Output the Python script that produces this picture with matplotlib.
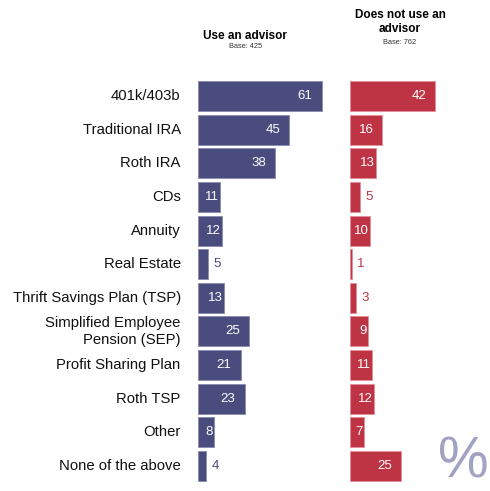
import matplotlib.pyplot as plt

# --- Data ---
categories = ["401k/403b", "Traditional IRA", "Roth IRA", "CDs", "Annuity",
              "Real Estate", "Thrift Savings Plan (TSP)",
              "Simplified Employee\nPension (SEP)", "Profit Sharing Plan",
              "Roth TSP", "Other", "None of the above"]
advisor = [61, 45, 38, 11, 12, 5, 13, 25, 21, 23, 8, 4]
no_advisor = [42, 16, 13, 5, 10, 1, 3, 9, 11, 12, 7, 25]

navy = "#4b4c7e"
red = "#be3445"

W, H = 490, 491
fig = plt.figure(figsize=(W / 100, H / 100), dpi=100)
plt.rcParams['font.family'] = ['Liberation Sans', 'DejaVu Sans']

px_per_unit = 2.03
top, bottom = 79.2, 482.8


def make_axes(x0, units):
    return fig.add_axes([x0 / W, (H - bottom) / H, units * px_per_unit / W, (bottom - top) / H])


def draw_panel(ax, values, color, edge, xmax):
    rows = range(len(values))
    ax.barh(rows, values, height=0.89, color=color, edgecolor=edge, linewidth=0.7)
    ax.set_xlim(0, xmax)
    ax.set_ylim(len(values) - 0.5, -0.5)
    ax.axis('off')
    for i, v in enumerate(values):
        if v >= 15:
            ax.text(v - 4.5, i, str(v), ha='right', va='center', color='white', fontsize=9.5)
        elif v >= 7:
            ax.text(v - 0.8, i, str(v), ha='right', va='center', color='white', fontsize=9.5)
        else:
            ax.text(v + 2.5, i, str(v), ha='left', va='center', color=color, fontsize=9.5)


ax1 = make_axes(198, 70)
draw_panel(ax1, advisor, navy, "#8d8eb3", 70)
for i, cat in enumerate(categories):
    ax1.text(-8.5, i, cat, ha='right', va='center', fontsize=10.7, color='#111111',
             linespacing=1.3)

ax2 = make_axes(350, 66)
draw_panel(ax2, no_advisor, red, "#e3909a", 66)

# --- Titles ---
fig.text(245 / W, 1 - 36 / H, "Use an advisor", ha='center', va='center',
         fontsize=8.5, fontweight='bold')
fig.text(245 / W, 1 - 46 / H, "Base: 425", ha='center', va='center', fontsize=5.3, color='#333333')
fig.text(400 / W, 1 - 22 / H, "Does not use an\nadvisor", ha='center', va='center',
         fontsize=8.5, fontweight='bold', linespacing=1.3)
fig.text(400 / W, 1 - 43 / H, "Base: 762", ha='center', va='center', fontsize=5.3, color='#333333')

fig.text(463 / W, 1 - 490 / H, "%", ha='center', va='bottom', fontsize=41, color='#a2a2c2')

fig.savefig("out.png", dpi=100)
